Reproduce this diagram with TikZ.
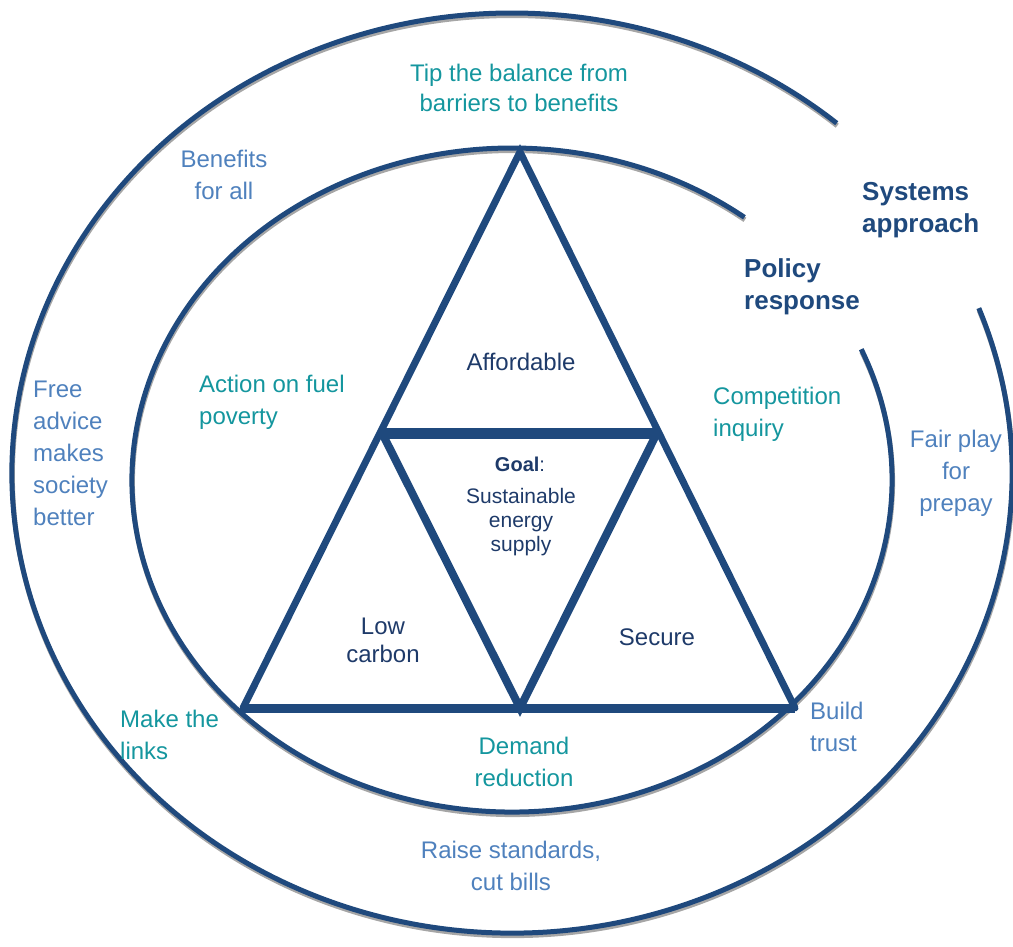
\documentclass[tikz,border=0pt]{standalone}
\usepackage{fontspec}
\setmainfont{Liberation Sans}
\definecolor{navy}{RGB}{31,73,125}
\definecolor{trinavy}{RGB}{30,58,105}
\definecolor{tealtxt}{RGB}{20,150,158}
\definecolor{lblue}{RGB}{79,129,189}
\begin{document}
\begin{tikzpicture}[x=1pt,y=-1pt,
  ring/.style={draw=navy, line width=5pt},
  ringshadow/.style={draw=black!35, line width=5pt},
  triside/.style={draw=navy, line width=7pt, line cap=round},
  tribase/.style={draw=navy, line width=9pt},
  trimid/.style={draw=navy, line width=11pt},
  triinner/.style={draw=navy, line width=8pt, line cap=round},
  txt/.style={inner sep=0pt, font=\fontsize{24}{32}\selectfont},
  tealt/.style={txt, text=tealtxt},
  bluet/.style={txt, text=lblue},
  boldt/.style={inner sep=0pt, font=\fontsize{26}{32}\selectfont\bfseries, text=navy},
  trit/.style={inner sep=0pt, font=\fontsize{24}{28}\selectfont, text=trinavy}]
\useasboundingbox (0,0) rectangle (1013,947);
% rings
\coordinate (oc) at (512,473);
\coordinate (ic) at (512,480);
\coordinate (ocs) at (512.5,475.5);
\coordinate (ics) at (512.5,482.5);
\draw[ringshadow] (ocs) ++(-21:500 and 460) arc[start angle=-21, end angle=310.5, x radius=500, y radius=460];
\draw[ringshadow] (ics) ++(-23.2:380 and 332) arc[start angle=-23.2, end angle=307.7, x radius=380, y radius=332];
\draw[ring] (oc) ++(-21:500 and 460) arc[start angle=-21, end angle=310.5, x radius=500, y radius=460];
\draw[ring] (ic) ++(-23.2:380 and 332) arc[start angle=-23.2, end angle=307.7, x radius=380, y radius=332];
% triangle
\coordinate (apex) at (520,152);
\coordinate (bl) at (243,708);
\coordinate (br) at (795,708);
\coordinate (ml) at (382,433);
\coordinate (mr) at (657,433);
\coordinate (bm) at (520,708);
\draw[triside] (bl) -- (apex) -- (br);
\draw[tribase] (bl) -- (br);
\draw[trimid] (ml) -- (mr);
\draw[triinner] (ml) -- (bm) -- (mr);
% outer ring texts
\node[tealt, align=center, font=\fontsize{24}{30}\selectfont] (tip) at (519,88) {Tip the balance from\\barriers to benefits};
\node[bluet, align=center] (benefits) at (224,175) {Benefits\\for all};
\node[boldt, align=left, anchor=west] (systems) at (862,210) {Systems\\approach};
\node[bluet, align=left, anchor=west] (free) at (33,453) {Free\\advice\\makes\\society\\better};
\node[bluet, align=center] (fair) at (956,473) {Fair play\\for\\prepay};
\node[bluet, align=center] (raise) at (511,866) {Raise standards,\\cut bills};
% inner ring texts
\node[boldt, align=left, anchor=west] (policy) at (744,287) {Policy\\response};
\node[tealt, align=left, anchor=west] (action) at (199,402) {Action on fuel\\poverty};
\node[tealt, align=left, anchor=west] (competition) at (713,414) {Competition\\inquiry};
\node[tealt, align=left, anchor=west] (make) at (120,735) {Make the\\links};
\node[bluet, align=left, anchor=west] (build) at (810,727) {Build\\trust};
\node[tealt, align=center] (demand) at (524,762) {Demand\\reduction};
% triangle texts
\node[trit] (afford) at (521,362) {Affordable};
\node[inner sep=0pt, font=\fontsize{20}{22}\selectfont, text=trinavy] (goal) at (520,464) {\textbf{Goal}:};
\node[inner sep=0pt, align=center, font=\fontsize{21}{24}\selectfont, text=trinavy] (sust) at (521,522) {Sustainable\\energy\\supply};
\node[trit, align=center] (low) at (383,640) {Low\\carbon};
\node[trit] (secure) at (657,637) {Secure};
\end{tikzpicture}
\end{document}
